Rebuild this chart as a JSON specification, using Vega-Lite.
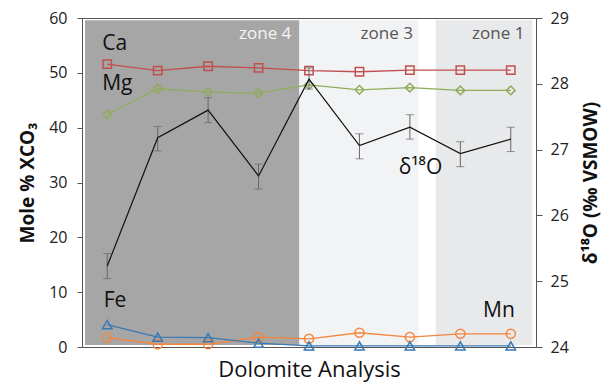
{
  "$schema": "https://vega.github.io/schema/vega-lite/v6.json",
  "width": 454,
  "height": 329,
  "autosize": "none",
  "padding": {"left": 82, "top": 18, "right": 80, "bottom": 39},
  "background": "white",
  "config": {
    "font": "Open Sans",
    "view": {"stroke": "#555", "strokeWidth": 1},
    "axis": {"grid": false, "domainColor": "#555", "tickColor": "#555", "labelColor": "#222", "titleColor": "#111"}
  },
  "datasets": {
    "zones": [
      {"zone": "zone 4", "x0": 0.56, "x1": 4.81, "ylo": 0.36, "yhi": 59.6},
      {"zone": "zone 3", "x0": 4.81, "x1": 7.17, "ylo": 0.36, "yhi": 59.6},
      {"zone": "zone 1", "x0": 7.51, "x1": 9.43, "ylo": 0.36, "yhi": 59.6}
    ],
    "elements": [
      {"i": 1, "element": "Ca", "value": 51.6},
      {"i": 2, "element": "Ca", "value": 50.4},
      {"i": 3, "element": "Ca", "value": 51.2},
      {"i": 4, "element": "Ca", "value": 50.9},
      {"i": 5, "element": "Ca", "value": 50.4},
      {"i": 6, "element": "Ca", "value": 50.2},
      {"i": 7, "element": "Ca", "value": 50.5},
      {"i": 8, "element": "Ca", "value": 50.5},
      {"i": 9, "element": "Ca", "value": 50.5},
      {"i": 1, "element": "Mg", "value": 42.4},
      {"i": 2, "element": "Mg", "value": 47.1},
      {"i": 3, "element": "Mg", "value": 46.5},
      {"i": 4, "element": "Mg", "value": 46.3},
      {"i": 5, "element": "Mg", "value": 47.8},
      {"i": 6, "element": "Mg", "value": 46.9},
      {"i": 7, "element": "Mg", "value": 47.3},
      {"i": 8, "element": "Mg", "value": 46.8},
      {"i": 9, "element": "Mg", "value": 46.8},
      {"i": 1, "element": "Mn", "value": 1.7},
      {"i": 2, "element": "Mn", "value": 0.5},
      {"i": 3, "element": "Mn", "value": 0.5},
      {"i": 4, "element": "Mn", "value": 1.8},
      {"i": 5, "element": "Mn", "value": 1.5},
      {"i": 6, "element": "Mn", "value": 2.6},
      {"i": 7, "element": "Mn", "value": 1.8},
      {"i": 8, "element": "Mn", "value": 2.4},
      {"i": 9, "element": "Mn", "value": 2.4},
      {"i": 1, "element": "Fe", "value": 4.1},
      {"i": 2, "element": "Fe", "value": 1.8},
      {"i": 3, "element": "Fe", "value": 1.7},
      {"i": 4, "element": "Fe", "value": 0.7},
      {"i": 5, "element": "Fe", "value": 0.2},
      {"i": 6, "element": "Fe", "value": 0.2},
      {"i": 7, "element": "Fe", "value": 0.2},
      {"i": 8, "element": "Fe", "value": 0.2},
      {"i": 9, "element": "Fe", "value": 0.2}
    ],
    "oxygen": [
      {"i": 1, "d": 25.23, "lo": 25.04, "hi": 25.42},
      {"i": 2, "d": 27.18, "lo": 26.98, "hi": 27.35},
      {"i": 3, "d": 27.6, "lo": 27.41, "hi": 27.79},
      {"i": 4, "d": 26.6, "lo": 26.4, "hi": 26.78},
      {"i": 5, "d": 28.07, "lo": 27.92, "hi": 28.24},
      {"i": 6, "d": 27.06, "lo": 26.86, "hi": 27.24},
      {"i": 7, "d": 27.34, "lo": 27.16, "hi": 27.53},
      {"i": 8, "d": 26.94, "lo": 26.74, "hi": 27.12},
      {"i": 9, "d": 27.16, "lo": 26.97, "hi": 27.34}
    ],
    "blackLabels": [
      {"label": "Ca", "x": 0.9, "y": 55.3},
      {"label": "Mg", "x": 0.9, "y": 48.0},
      {"label": "Fe", "x": 0.93, "y": 8.3}
    ],
    "rightLabels": [
      {"label": "Mn", "x": 9.08, "y": 6.6}
    ],
    "oLabel": [
      {"label": "δ¹⁸O", "x": 7.21, "y": 32.6}
    ],
    "zoneLabelsWhite": [
      {"label": "zone 4", "x": 4.65, "y": 57.1}
    ],
    "zoneLabelsGray": [
      {"label": "zone 3", "x": 7.06, "y": 57.1},
      {"label": "zone 1", "x": 9.27, "y": 57.1}
    ]
  },
  "layer": [
    {
      "layer": [
        {
          "data": {"name": "zones"},
          "mark": {"type": "rect"},
          "encoding": {
            "x": {"field": "x0", "type": "quantitative", "scale": {"domain": [0.5, 9.5], "zero": false, "nice": false},
              "axis": {"title": "Dolomite Analysis", "labels": false, "ticks": false, "domain": false,
                "titleFontSize": 22, "titleFontWeight": "normal", "titlePadding": 12}},
            "x2": {"field": "x1"},
            "y": {"field": "ylo", "type": "quantitative", "scale": {"domain": [0, 60], "zero": false, "nice": false},
              "axis": {"title": "Mole % XCO₃", "values": [0, 10, 20, 30, 40, 50, 60], "tickSize": 5,
                "labelFontSize": 16, "labelPadding": 10, "titleFontSize": 19, "titleFontWeight": "bold",
                "titlePadding": 11}},
            "y2": {"field": "yhi"},
            "color": {"field": "zone", "type": "nominal", "legend": null,
              "scale": {"domain": ["zone 4", "zone 3", "zone 1"], "range": ["#a6a6a6", "#f2f3f5", "#e8e9eb"]}}
          }
        },
        {
          "data": {"name": "elements"},
          "mark": {"type": "line", "strokeWidth": 1.3},
          "encoding": {
            "x": {"field": "i", "type": "quantitative", "scale": {"domain": [0.5, 9.5], "zero": false, "nice": false}},
            "y": {"field": "value", "type": "quantitative"},
            "detail": {"field": "element"},
            "stroke": {"field": "element", "type": "nominal", "legend": null,
              "scale": {"domain": ["Ca", "Mg", "Mn", "Fe"], "range": ["#c0504d", "#8fac5a", "#f4863f", "#3a78b5"]}}
          }
        },
        {
          "data": {"name": "elements"},
          "mark": {"type": "point", "filled": false, "strokeWidth": 1.5, "opacity": 1},
          "encoding": {
            "x": {"field": "i", "type": "quantitative", "scale": {"domain": [0.5, 9.5], "zero": false, "nice": false}},
            "y": {"field": "value", "type": "quantitative"},
            "stroke": {"field": "element", "type": "nominal", "legend": null},
            "shape": {"field": "element", "type": "nominal", "legend": null,
              "scale": {"domain": ["Ca", "Mg", "Mn", "Fe"], "range": ["square", "diamond", "circle", "triangle-up"]}},
            "size": {"field": "element", "type": "nominal", "legend": null,
              "scale": {"domain": ["Ca", "Mg", "Mn", "Fe"], "range": [70, 90, 75, 75]}}
          }
        },
        {
          "data": {"name": "blackLabels"},
          "mark": {"type": "text", "align": "left", "baseline": "middle", "fontSize": 21, "color": "#111"},
          "encoding": {
            "x": {"field": "x", "type": "quantitative", "scale": {"domain": [0.5, 9.5], "zero": false, "nice": false}},
            "y": {"field": "y", "type": "quantitative"},
            "text": {"field": "label"}
          }
        },
        {
          "data": {"name": "rightLabels"},
          "mark": {"type": "text", "align": "right", "baseline": "middle", "fontSize": 21, "color": "#111"},
          "encoding": {
            "x": {"field": "x", "type": "quantitative", "scale": {"domain": [0.5, 9.5], "zero": false, "nice": false}},
            "y": {"field": "y", "type": "quantitative"},
            "text": {"field": "label"}
          }
        },
        {
          "data": {"name": "oLabel"},
          "mark": {"type": "text", "align": "center", "baseline": "middle", "fontSize": 21, "color": "#111"},
          "encoding": {
            "x": {"field": "x", "type": "quantitative", "scale": {"domain": [0.5, 9.5], "zero": false, "nice": false}},
            "y": {"field": "y", "type": "quantitative"},
            "text": {"field": "label"}
          }
        },
        {
          "data": {"name": "zoneLabelsWhite"},
          "mark": {"type": "text", "align": "right", "baseline": "middle", "fontSize": 17, "color": "#f4f4f4"},
          "encoding": {
            "x": {"field": "x", "type": "quantitative", "scale": {"domain": [0.5, 9.5], "zero": false, "nice": false}},
            "y": {"field": "y", "type": "quantitative"},
            "text": {"field": "label"}
          }
        },
        {
          "data": {"name": "zoneLabelsGray"},
          "mark": {"type": "text", "align": "right", "baseline": "middle", "fontSize": 17, "color": "#555"},
          "encoding": {
            "x": {"field": "x", "type": "quantitative", "scale": {"domain": [0.5, 9.5], "zero": false, "nice": false}},
            "y": {"field": "y", "type": "quantitative"},
            "text": {"field": "label"}
          }
        }
      ]
    },
    {
      "data": {"name": "oxygen"},
      "layer": [
        {
          "mark": {"type": "errorbar", "ticks": true, "size": 8, "thickness": 1, "color": "#666"},
          "encoding": {
            "x": {"field": "i", "type": "quantitative", "scale": {"domain": [0.5, 9.5], "zero": false, "nice": false}},
            "y": {"field": "lo", "type": "quantitative", "scale": {"domain": [24, 29], "zero": false, "nice": false},
              "axis": {"orient": "right", "title": "δ¹⁸O (‰ VSMOW)", "values": [24, 25, 26, 27, 28, 29], "format": "d", "tickSize": 6,
                "labelFontSize": 16, "labelPadding": 8, "titleFontSize": 19, "titleFontWeight": "bold",
                "titleAngle": 270, "titleBaseline": "bottom", "titlePadding": 32}},
            "y2": {"field": "hi"}
          }
        },
        {
          "mark": {"type": "line", "color": "#111", "strokeWidth": 1.2},
          "encoding": {
            "x": {"field": "i", "type": "quantitative", "scale": {"domain": [0.5, 9.5], "zero": false, "nice": false}},
            "y": {"field": "d", "type": "quantitative"}
          }
        }
      ]
    }
  ],
  "resolve": {"scale": {"y": "independent"}, "axis": {"y": "independent"}}
}
